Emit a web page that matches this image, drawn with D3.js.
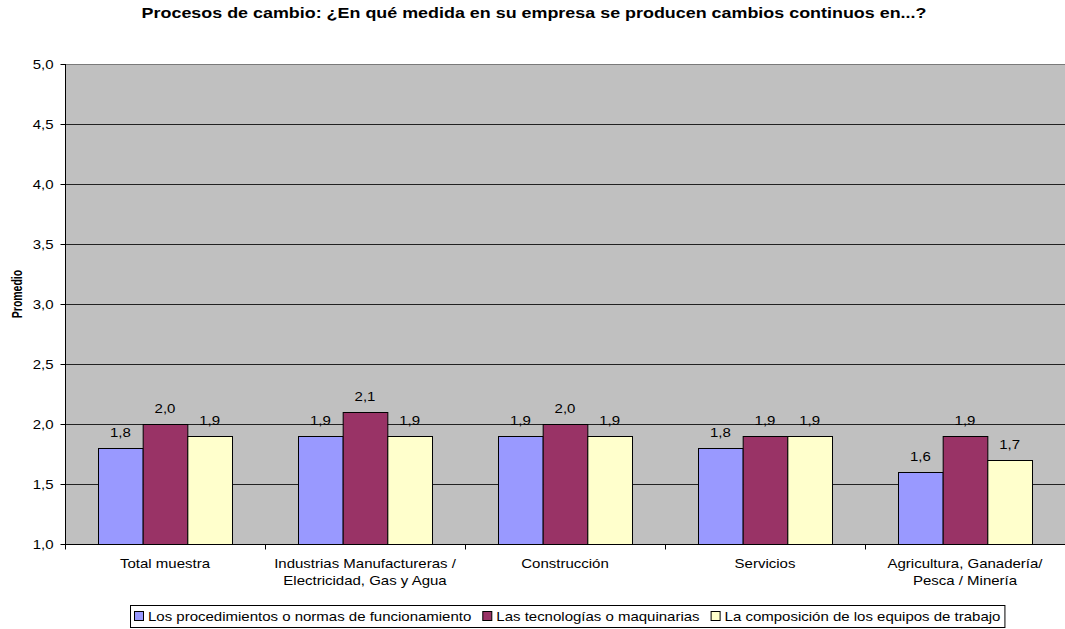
<!DOCTYPE html>
<html>
<head>
<meta charset="utf-8">
<script src="https://cdn.jsdelivr.net/npm/d3@7"></script>
<style>
  body { margin: 0; background: #fff; }
  svg { display: block; font-family: Arial, "Liberation Sans", sans-serif; }
</style>
</head>
<body>
<div id="chart"></div>
<script>
// data
const categories = [
  ['Total muestra'],
  ['Industrias Manufactureras /', 'Electricidad, Gas y Agua'],
  ['Construcción'],
  ['Servicios'],
  ['Agricultura, Ganadería/', 'Pesca / Minería']
];
const seriesNames = [
  'Los procedimientos o normas de funcionamiento',
  'Las tecnologías o maquinarias',
  'La composición de los equipos de trabajo'
];
const procedimientos = [1.8, 1.9, 1.9, 1.8, 1.6];
const tecnologias = [2.0, 2.1, 2.0, 1.9, 1.9];
const composicion = [1.9, 1.9, 1.9, 1.9, 1.7];
const yTicks = [1.0, 1.5, 2.0, 2.5, 3.0, 3.5, 4.0, 4.5, 5.0];

const colors = ['#9999ff', '#993366', '#ffffcc'];
const chartTitle = 'Procesos de cambio: ¿En qué medida en su empresa se producen cambios continuos en...?';

// the picture is stretched sideways, so text gets stretched too
const sx = 1.2;
const fontSize = 12.5;

let width = 1065,
    height = 629,
    margins = { top: 64, right: 0, bottom: 85, left: 65 };

const fmt = v => d3.format('.1f')(v).replace('.', ',');

let $svg = d3.select('#chart').append('svg')
  .attr('width', width)
  .attr('height', height);

function stretchedText($parent, x, y, str, size = fontSize, scale = sx) {
  return $parent.append('text')
    .attr('transform', `translate(${x},${y}) scale(${scale},1)`)
    .style('font-size', size + 'px')
    .text(str);
}

let x0 = d3.scaleBand()
  .domain(d3.range(categories.length))
  .range([margins.left, width - margins.right]);

let x1 = d3.scaleBand()
  .domain(d3.range(seriesNames.length))
  .range([0, x0.bandwidth()])
  .paddingOuter(0.739);

let y = d3.scaleLinear()
  .domain([1, 5])
  .range([height - margins.bottom, margins.top]);

// plot area
$svg.append('rect')
  .attr('x', margins.left)
  .attr('y', margins.top)
  .attr('width', width - margins.left - margins.right)
  .attr('height', y(1) - margins.top)
  .attr('fill', '#c0c0c0');

// gridlines
$svg.append('g')
  .selectAll('line')
  .data(yTicks.slice(1))
  .join('line')
  .attr('x1', margins.left)
  .attr('x2', width - margins.right)
  .attr('y1', d => Math.round(y(d)) + 0.5)
  .attr('y2', d => Math.round(y(d)) + 0.5)
  .attr('stroke', d => d === 5 ? '#7a7a7a' : '#222')
  .attr('stroke-width', 1);

// bars
let rows = [procedimientos, tecnologias, composicion];
let $groups = $svg.append('g')
  .selectAll('g')
  .data(categories.map((c, i) => rows.map((r, s) => ({ s, v: r[i] }))))
  .join('g')
  .attr('transform', (d, i) => `translate(${x0(i)},0)`);

$groups.selectAll('rect')
  .data(d => d)
  .join('rect')
  .attr('x', d => x1(d.s) + 0.5)
  .attr('y', d => Math.round(y(d.v)) + 0.5)
  .attr('width', x1.bandwidth())
  .attr('height', d => Math.round(y(1)) - Math.round(y(d.v)))
  .attr('fill', d => colors[d.s])
  .attr('stroke', '#000')
  .attr('stroke-width', 1);

$groups.each(function(d) {
  let $g = d3.select(this);
  d.forEach(b => {
    stretchedText($g, x1(b.s) + x1.bandwidth() / 2, y(b.v) - 11, fmt(b.v))
      .attr('text-anchor', 'middle')
      .attr('fill', '#000');
  });
});

// y axis
let $yAxis = $svg.append('g')
  .attr('transform', `translate(${margins.left + 0.5},0)`);
$yAxis.append('line')
  .attr('y1', margins.top)
  .attr('y2', Math.round(y(1)) + 0.5)
  .attr('stroke', '#000');
yTicks.forEach(t => {
  let ty = Math.round(y(t)) + 0.5;
  $yAxis.append('line')
    .attr('x1', -5).attr('x2', 0)
    .attr('y1', ty).attr('y2', ty)
    .attr('stroke', '#000');
  stretchedText($yAxis, -12, ty + 4.5, fmt(t))
    .attr('text-anchor', 'end');
});

// x axis
let $xAxis = $svg.append('g');
let baseY = Math.round(y(1)) + 0.5;
$xAxis.append('line')
  .attr('x1', margins.left)
  .attr('x2', width)
  .attr('y1', baseY)
  .attr('y2', baseY)
  .attr('stroke', '#000');
d3.range(categories.length + 1).forEach(i => {
  let tx = Math.round(margins.left + i * x0.bandwidth()) + 0.5;
  $xAxis.append('line')
    .attr('x1', tx).attr('x2', tx)
    .attr('y1', baseY).attr('y2', baseY + 5)
    .attr('stroke', '#000');
});
categories.forEach((lines, i) => {
  lines.forEach((l, k) => {
    stretchedText($xAxis, x0(i) + x0.bandwidth() / 2, 568 + k * 17, l)
      .attr('text-anchor', 'middle');
  });
});

// axis title
$svg.append('text')
  .attr('transform', `translate(22,294) scale(1.45,1) rotate(-90)`)
  .attr('text-anchor', 'middle')
  .style('font-size', '10.5px')
  .style('font-weight', 'bold')
  .text('Promedio');

// chart title
stretchedText($svg, 534, 18, chartTitle, 14, 1.28)
  .attr('text-anchor', 'middle')
  .style('font-weight', 'bold');

// legend
let $legend = $svg.append('g');
let lx = 134;
seriesNames.forEach((name, i) => {
  $legend.append('rect')
    .attr('x', lx + 0.5)
    .attr('y', 611.5)
    .attr('width', 9)
    .attr('height', 9)
    .attr('fill', colors[i])
    .attr('stroke', '#000');
  let $t = stretchedText($legend, lx + 14, 621, name);
  lx += 14 + $t.node().getComputedTextLength() * sx + 11;
});
$legend.insert('rect', ':first-child')
  .attr('x', 130.5)
  .attr('y', 605.5)
  .attr('width', lx - 11 + 4 - 130)
  .attr('height', 22)
  .attr('fill', '#fff')
  .attr('stroke', '#000');
</script>
</body>
</html>
